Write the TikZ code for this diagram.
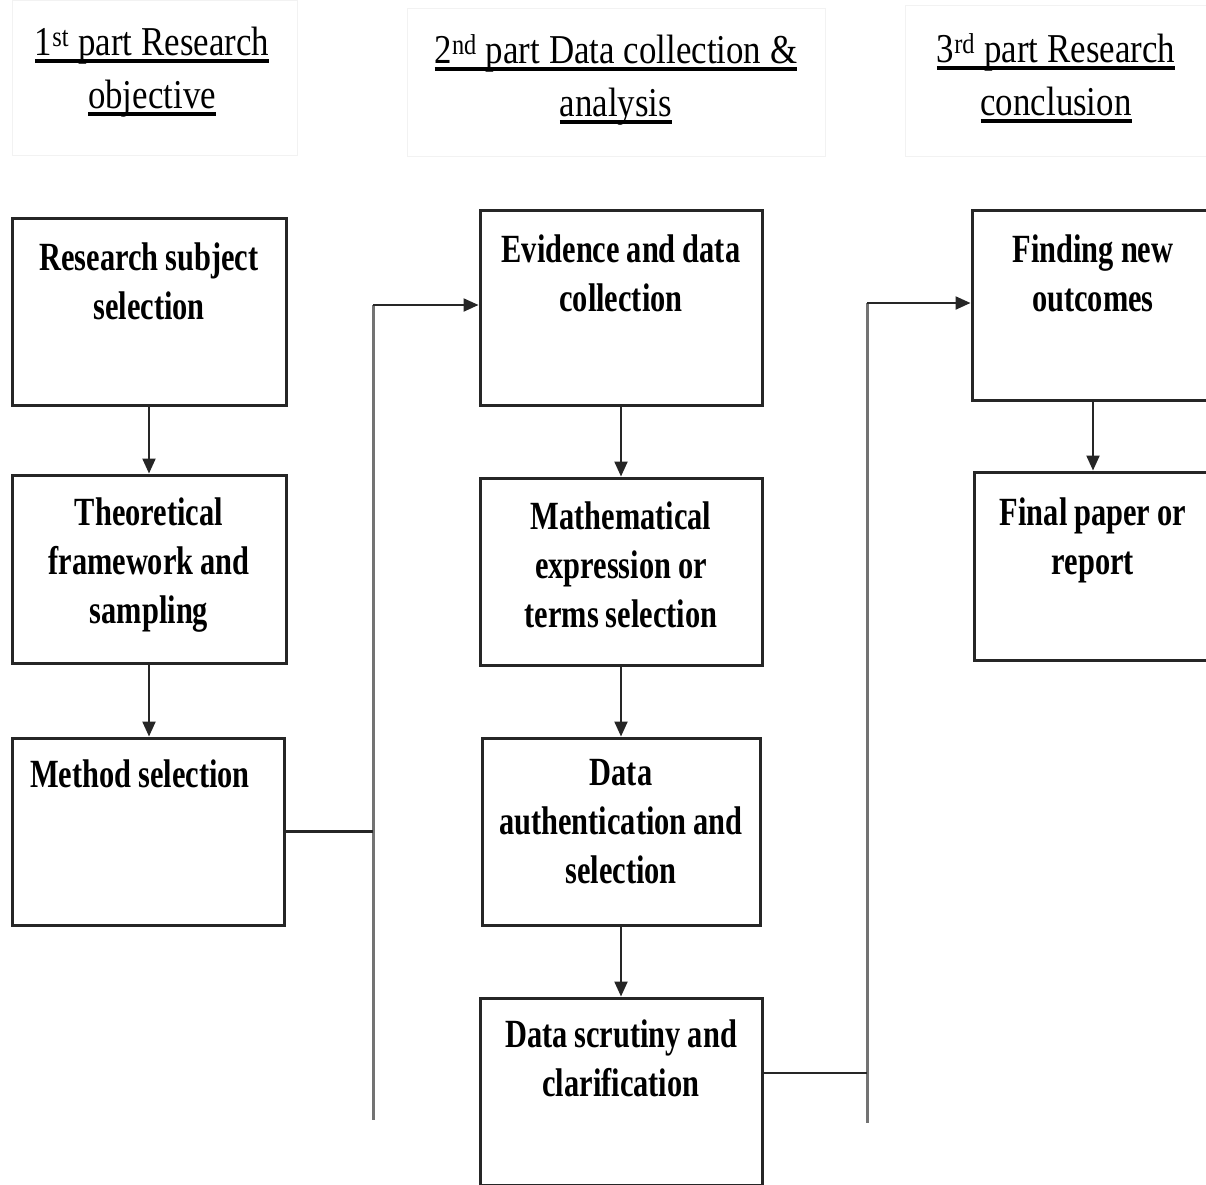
\documentclass[tikz,border=0pt]{standalone}
\usepackage{fontspec}
\usetikzlibrary{arrows.meta}
\newfontfamily\bxfont[FakeStretch=0.76]{Liberation Serif}
\newfontfamily\hdfont[FakeStretch=0.85]{Liberation Serif}
\newcommand\bs{\spaceskip=7pt\xspaceskip=7pt\strut}
\newcommand\hs{\spaceskip=9pt\xspaceskip=9pt\strut}
\newcommand\hul[1]{\setbox0=\hbox{#1}\leavevmode\rlap{\copy0}\rule[-8pt]{\wd0}{4.5pt}}
\begin{document}
\begin{tikzpicture}[x=1pt,y=-1pt,
 box/.style={draw=black!85,line width=3pt,rectangle,inner sep=0pt},
 txt/.style={anchor=north,inner sep=0pt,text width=300pt,align=center,font=\bxfont\bfseries\fontsize{40}{49}\selectfont},
 hd/.style={anchor=north,inner sep=0pt,text width=420pt,align=center,font=\hdfont\fontsize{41}{53}\selectfont},
 hdbox/.style={draw=black!5,line width=1pt,rectangle,inner sep=0pt},
 arr/.style={draw=black!85,line width=2.2pt,-{Triangle[length=15pt,width=13pt]}},
 link/.style={draw=black!85,line width=2.2pt},
 bus/.style={draw=black!55,line width=3pt}]
\clip (0,0) rectangle (1206,1184);
\fill[white] (0,0) rectangle (1206,1184);

% header frames
\node[hdbox,minimum width=285pt,minimum height=155pt] (h1box) at (154.5,77.5) {};
\node[hdbox,minimum width=418pt,minimum height=148pt] (h2box) at (616,82) {};
\node[hdbox,minimum width=301pt,minimum height=151pt] (h3box) at (1055.5,80.5) {};

% header texts
\node[hd] (h1) at (152,17.9) {\hs\hul{1\textsuperscript{st} part Research}\\\hul{objective}};
\node[hd] (h2) at (616,25.9) {\hs\hul{2\textsuperscript{nd} part Data collection \&}\\\hul{analysis}};
\node[hd] (h3) at (1056,24.9) {\hs\hul{3\textsuperscript{rd} part Research}\\\hul{conclusion}};

% boxes
\node[box,minimum width=274pt,minimum height=187pt] (A) at (149,311.5) {};
\node[box,minimum width=274pt,minimum height=188pt] (B) at (149,569) {};
\node[box,minimum width=272pt,minimum height=187pt] (C) at (148,831.5) {};
\node[box,minimum width=282pt,minimum height=195pt] (D) at (621,307.5) {};
\node[box,minimum width=282pt,minimum height=187pt] (E) at (621,571.5) {};
\node[box,minimum width=278pt,minimum height=187pt] (F) at (621,831.5) {};
\node[box,minimum width=282pt,minimum height=187pt] (G) at (621,1091.5) {};
\node[box,minimum width=242pt,minimum height=190pt] (H) at (1093,305) {};
\node[box,minimum width=240pt,minimum height=188pt] (I) at (1094,566) {};

% box texts
\node[txt] (tA) at (149,235.7) {\bs Research subject\\selection};
\node[txt] (tB) at (149,490.7) {\bs Theoretical\\framework and\\sampling};
\node[txt] (tC) at (140,752.7) {\bs Method selection};
\node[txt] (tD) at (621,227.7) {\bs Evidence and data\\collection};
\node[txt] (tE) at (621,494.7) {\bs Mathematical\\expression or\\terms selection};
\node[txt] (tF) at (621,750.7) {\bs Data\\authentication and\\selection};
\node[txt] (tG) at (621,1012.7) {\bs Data scrutiny and\\clarification};
\node[txt] (tH) at (1093,227.7) {\bs Finding new\\outcomes};
\node[txt] (tI) at (1093,490.7) {\bs Final paper or\\report};

% vertical arrows
\draw[arr] (A.south) -- (B.north);
\draw[arr] (B.south) -- (C.north -| B.south);
\draw[arr] (D.south) -- (E.north);
\draw[arr] (E.south) -- (F.north);
\draw[arr] (F.south) -- (G.north);
\draw[arr] (H.south) -- (H.south |- I.north);

% bus 1
\coordinate (b1top) at (373,305);
\coordinate (b1bot) at (373,1120);
\draw[bus] (b1top) -- (b1bot);
\draw[link] (C.east) -- (C.east -| b1top);
\draw[arr] (b1top) -- (D.west |- b1top);

% bus 2
\coordinate (b2top) at (867,303);
\coordinate (b2bot) at (867,1123);
\coordinate (gout) at (762,1073);
\draw[bus] (b2top) -- (b2bot);
\draw[link] (gout) -- (gout -| b2top);
\draw[arr] (b2top) -- (H.west |- b2top);
\end{tikzpicture}
\end{document}
